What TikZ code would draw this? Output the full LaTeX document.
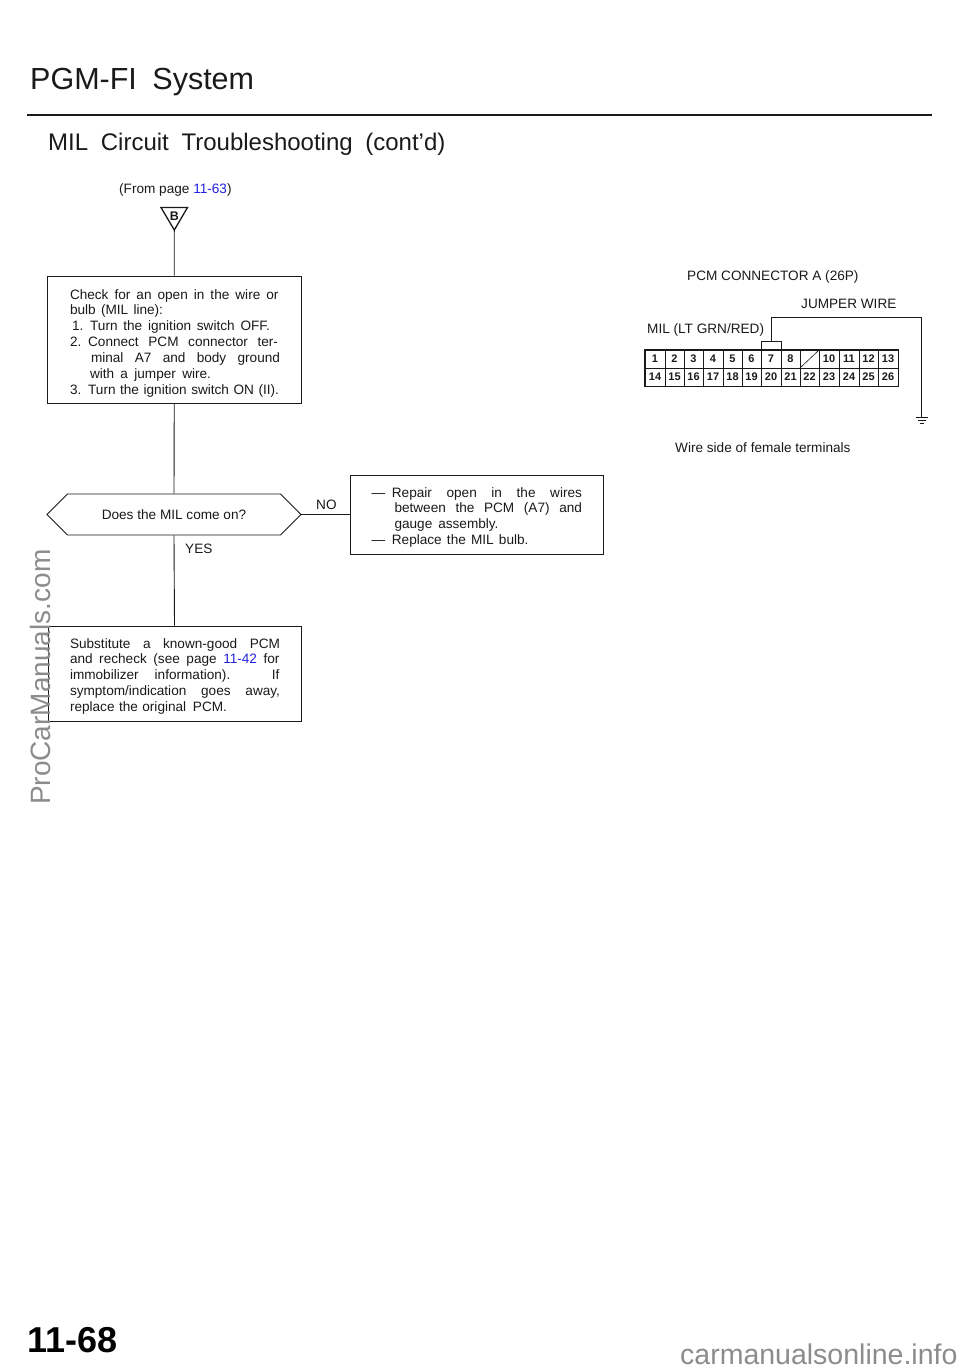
\documentclass[tikz,border=0pt]{standalone}
\usepackage{fontspec}
\setmainfont{Liberation Sans}
\usetikzlibrary{shapes.misc}
\definecolor{ink}{HTML}{1A1A1A}
\definecolor{link}{HTML}{2020E0}
\definecolor{wm}{HTML}{8C8C8C}
\newcommand{\bline}[3]{\hbox to 0pt{\hskip #1pt\smash{\makebox[#2pt][s]{#3}}\hss}\vskip 15.95pt}
\newcommand{\boxtext}[4]{\vbox to #2pt{\offinterlineskip\hbox to #1pt{\hfil}\vskip #3pt #4\vss}}
\newcommand{\lk}[1]{\textcolor{link}{#1}}
\tikzset{
  x=1pt,y=-1pt,
  flowbox/.style={draw=ink,line width=0.9pt,inner sep=0pt,text=ink,font=\fontsize{13.6}{16}\selectfont},
  flowdec/.style={draw=ink,line width=0.9pt,chamfered rectangle,chamfered rectangle xsep=21pt,chamfered rectangle ysep=15.5pt,minimum width=254pt,minimum height=31pt,inner sep=0pt,text=ink,font=\fontsize{13.6}{16}\selectfont},
  conn/.style={draw=ink,line width=0.9pt},
  lbl/.style={inner sep=0pt,anchor=base west,text=ink,font=\fontsize{13.6}{16}\selectfont},
  cell/.style={draw=ink,line width=0.7pt,inner sep=0pt,minimum height=18pt,text=ink,font=\fontsize{11}{12}\bfseries\selectfont},
  pin/.style={draw=ink,line width=1pt,inner sep=0pt,minimum width=20pt,minimum height=8pt},
}
\begin{document}
\begin{tikzpicture}
\useasboundingbox[fill=white] (0,0) rectangle (960,1370);
% headings
\node[lbl,font=\fontsize{30.5}{34}\selectfont] (title) at (30,90) {PGM-FI\hspace{7pt} System};
\draw[ink,line width=2pt] (27,115.5) -- (932,115.5);
\node[lbl,font=\fontsize{24}{28}\selectfont] (sub) at (48,150) {MIL\hspace{6pt} Circuit\hspace{6pt} Troubleshooting\hspace{6pt} (cont'd)};
\node[lbl] (from) at (119,193) {(From page \lk{11-63})};
% off-page marker
\node[inner sep=0pt,font=\fontsize{12.5}{13}\bfseries\selectfont,text=ink] (mark) at (174.3,216) {B};
\coordinate (tip) at (174.3,230);
\draw[ink,line width=1.3pt,line join=miter] (161,207.5) -- (187.5,207.5) -- (tip) -- cycle;
% flow
\node[flowbox] (b1) at (174.25,339.5) {\boxtext{253.5}{127}{23}{%
  \bline{22.5}{208.5}{Check for an open in the wire or}%
  \bline{22.5}{93}{bulb\, (MIL\, line):}%
  \bline{24.5}{198}{1.\enspace Turn the ignition switch OFF.}%
  \bline{22.5}{208}{2.\enspace Connect PCM connector ter-}%
  \bline{43.5}{189}{minal A7 and body ground}%
  \bline{42.5}{121}{with a jumper wire.}%
  \bline{22.5}{209}{3.\enspace Turn the ignition switch ON (II).}}};
\node[flowdec] (d1) at (174,514.5) {\raisebox{-1.5pt}{Does the MIL come on?}};
\node[flowbox] (b2) at (477,514.5) {\boxtext{253}{79}{22}{%
  \bline{21}{210.5}{—\enspace Repair open in the wires}%
  \bline{44}{187.5}{between the PCM (A7) and}%
  \bline{44}{104}{gauge assembly.}%
  \bline{21}{157}{—\enspace Replace the MIL bulb.}}};
\node[flowbox] (b3) at (174.5,673.5) {\boxtext{253}{95}{22}{%
  \bline{22}{210}{Substitute a known-good PCM}%
  \bline{22}{209.5}{and recheck (see page \lk{11-42} for}%
  \bline{22}{209.5}{immobilizer information). If}%
  \bline{22}{210}{symptom/indication goes away,}%
  \bline{22}{157}{replace the original\, PCM.}}};
\node[lbl] (no) at (316,509) {NO};
\node[lbl] (yes) at (185,553) {YES};
\draw[conn] (tip) -- (b1.north);
\draw[conn] (b1.south) -- (d1.north);
\draw[conn] (d1.south) -- (b3.north);
\draw[conn] (d1.east) -- (b2.west);
% connector
\node[lbl] (pcm) at (687,280) {PCM CONNECTOR A (26P)};
\node[lbl] (jw) at (801,308) {JUMPER WIRE};
\node[lbl] (mil) at (647,333) {MIL (LT GRN/RED)};
\node[lbl] (ws) at (675,452) {Wire side of female terminals};
\foreach \n/\l/\r in {1/645/665,2/665/684,3/684/703,4/703/723,5/723/742,6/742/761,7/761/781,8/781/800,10/819/839,11/839/859,12/859/878,13/878/898}
  \node[cell,minimum width={\r-\l}] (c\n) at ({(\l+\r)/2},359) {\n};
\node[cell,minimum width=19pt] (c9) at (809.5,359) {};
\draw[ink,line width=0.6pt] (c9.south west) -- (c9.north east);
\foreach \n/\l/\r in {14/645/665,15/665/684,16/684/703,17/703/723,18/723/742,19/742/761,20/761/781,21/781/800,22/800/819,23/819/839,24/839/859,25/859/878,26/878/898}
  \node[cell,minimum width={\r-\l}] (c\n) at ({(\l+\r)/2},377) {\n};
\draw[ink,line width=1.2pt] (c1.north west) rectangle (c26.south east);
\node[pin,anchor=south] (tab) at (c7.north) {};
\coordinate (jc) at (921.5,317);
\coordinate (gnd) at (921.5,417);
\draw[conn] (tab.north) |- (jc) -- (gnd);
\draw[ink,line width=1pt] (915.5,417) -- (927.5,417);
\draw[ink,line width=0.9pt] (917.5,420) -- (925.5,420);
\draw[ink,line width=0.8pt] (919.5,423) -- (923.5,423);
% footer and watermarks
\node[lbl,font=\fontsize{36}{38}\bfseries\selectfont,text=black] (page) at (27,1352) {11-68};
\node[lbl,font=\fontsize{28.5}{30}\selectfont,text=wm] (wm1) at (680,1364) {carmanualsonline.info};
\node[lbl,rotate=90,font=\fontsize{28}{30}\selectfont,text=wm] (wm2) at (50,805) {ProCarManuals.com};
\end{tikzpicture}
\end{document}
